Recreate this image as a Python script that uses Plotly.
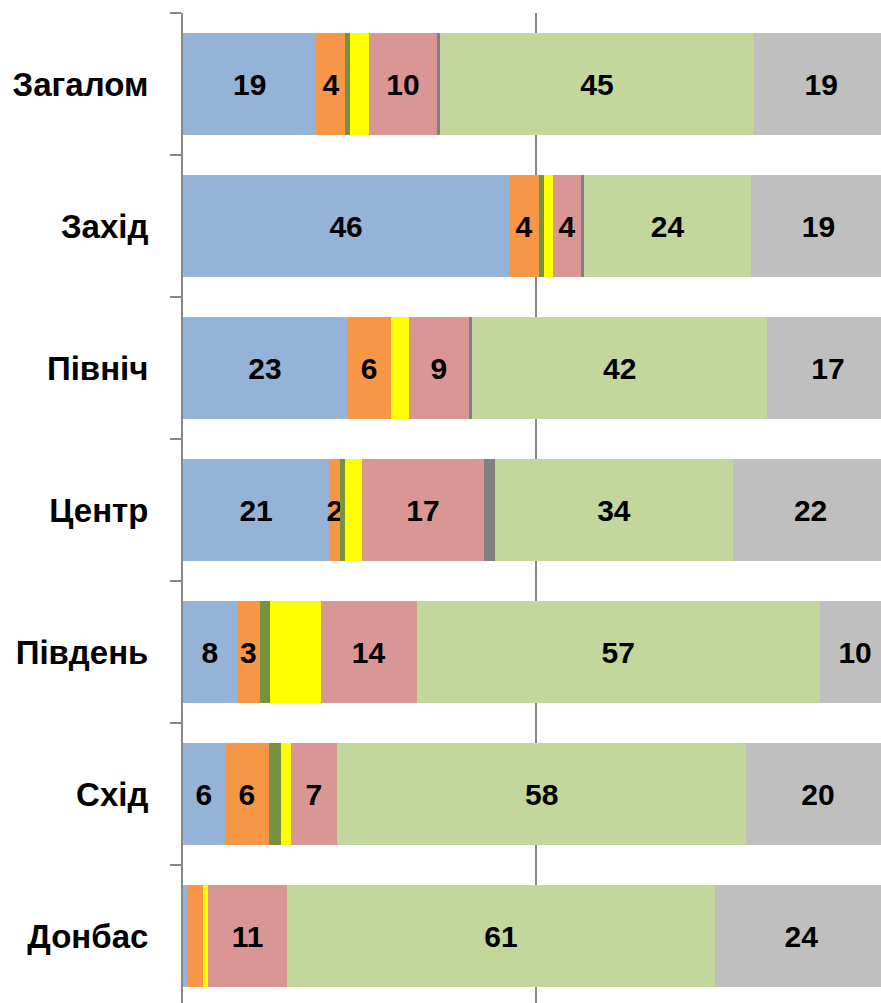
import plotly.graph_objects as go

categories = ["Загалом", "Захід", "Північ", "Центр", "Південь", "Схід", "Донбас"]

blue = [18.9, 46.2, 23.2, 20.7, 7.6, 5.9, 0.6]
orange = [4.1, 4.2, 6.3, 1.6, 3.3, 6.3, 2.2]
dark_green = [0.7, 0.7, 0.0, 0.7, 1.4, 1.7, 0.0]
yellow = [2.6, 1.3, 2.5, 2.4, 7.2, 1.4, 0.75]
pink = [9.7, 4.0, 8.5, 17.2, 13.6, 6.5, 11.2]
dark_gray = [0.4, 0.4, 0.5, 1.6, 0.0, 0.0, 0.0]
light_green = [44.5, 23.7, 41.7, 33.7, 57.1, 58.0, 60.6]
light_gray = [19.0, 19.0, 17.3, 22.0, 10.0, 20.3, 24.5]

blue_labels = ["19", "46", "23", "21", "8", "6", ""]
orange_labels = ["4", "4", "6", "2", "3", "6", ""]
pink_labels = ["10", "4", "9", "17", "14", "7", "11"]
light_green_labels = ["45", "24", "42", "34", "57", "58", "61"]
light_gray_labels = ["19", "19", "17", "22", "10", "20", "24"]
empty = [""] * len(categories)

series = [
    ("s1", blue, "#95B3D7", blue_labels),
    ("s2", orange, "#F79646", orange_labels),
    ("s3", dark_green, "#76923C", empty),
    ("s4", yellow, "#FFFF00", empty),
    ("s5", pink, "#D99694", pink_labels),
    ("s6", dark_gray, "#808080", empty),
    ("s7", light_green, "#C3D69B", light_green_labels),
    ("s8", light_gray, "#BFBFBF", light_gray_labels),
]

fig = go.Figure()
for name, vals, color, labels in series:
    fig.add_trace(go.Bar(
        y=categories, x=vals, name=name, orientation="h",
        marker=dict(color=color, line=dict(width=0)),
        text=labels, textposition="inside", insidetextanchor="middle",
        textangle=0, constraintext="none",
        textfont=dict(family="Arial, Liberation Sans, sans-serif", size=30,
                      color="black", weight="bold"),
        hoverinfo="skip", showlegend=False,
    ))

fig.update_layout(
    width=881, height=1003,
    barmode="stack", bargap=0.28,
    margin=dict(l=183, r=0, t=13, b=0),
    plot_bgcolor="white", paper_bgcolor="white",
    xaxis=dict(range=[0, 98.87], showgrid=True, gridcolor="#888888", gridwidth=2,
               tick0=0, dtick=50, showticklabels=False, zeroline=False,
               showline=False, ticks=""),
    yaxis=dict(categoryorder="array", categoryarray=categories,
               range=[6.47, -0.5], showline=True, linecolor="#888888", linewidth=2,
               ticks="outside", ticklen=11, tickwidth=2, tickcolor="#888888",
               tickson="boundaries", ticklabelstandoff=26,
               tickfont=dict(family="Arial, Liberation Sans, sans-serif", size=33,
                             color="black", weight="bold"),
               showgrid=False, zeroline=False),
)

fig.write_html(
    "out.html",
    config={"displayModeBar": False, "staticPlot": True},
    post_script="document.body.style.margin='0';document.body.style.overflow='hidden';",
)
